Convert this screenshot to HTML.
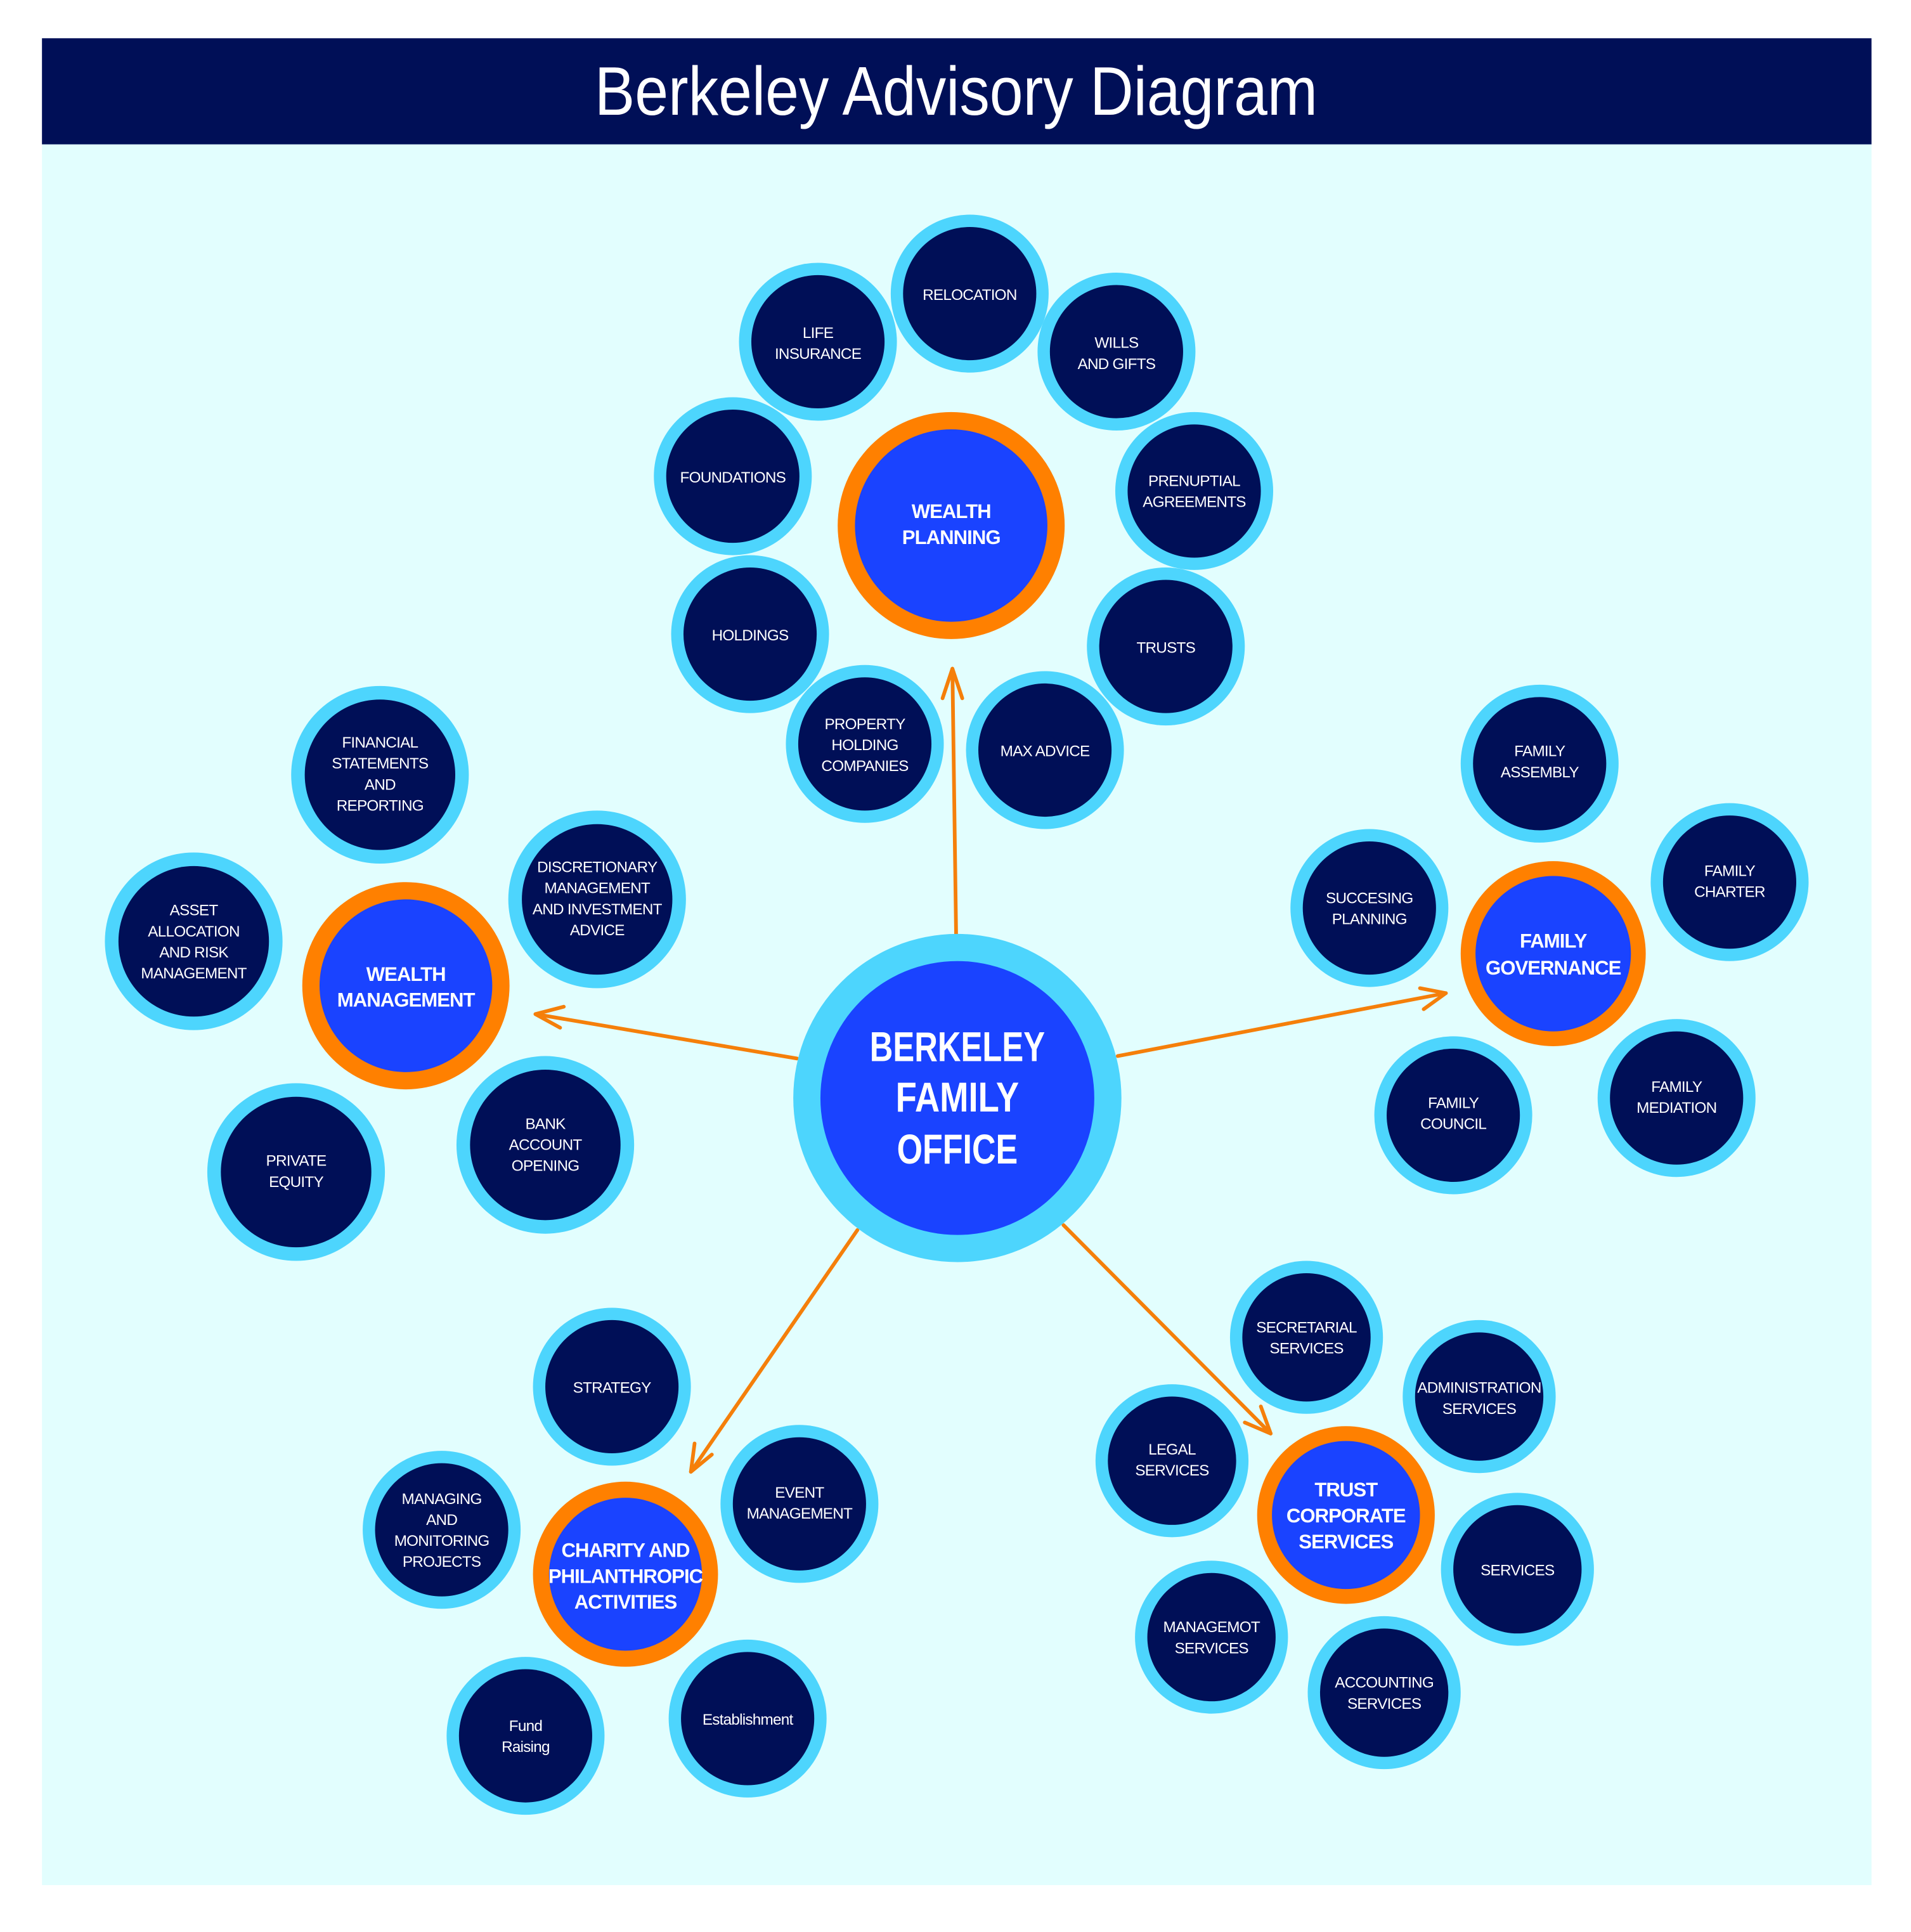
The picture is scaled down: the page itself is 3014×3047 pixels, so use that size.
<!DOCTYPE html>
<html><head><meta charset="utf-8"><style>
html,body{margin:0;padding:0;background:#fff;}
svg{display:block;}
text{font-family:"Liberation Sans",sans-serif;fill:#fff;text-anchor:middle;}
.s{font-size:12.5px;letter-spacing:-0.4px;}
.m{font-size:16px;font-weight:bold;letter-spacing:-0.5px;}
</style></head><body>
<svg width="3014" height="3047" viewBox="0 0 1549 1566" xmlns="http://www.w3.org/2000/svg">
<rect x="0" y="0" width="1549" height="1566" fill="#ffffff"/>
<rect x="34" y="116" width="1483" height="1412" fill="#e2fefe"/>
<rect x="34" y="31" width="1483" height="86" fill="#000f57"/>
<text x="775" y="93" font-size="56" textLength="586" lengthAdjust="spacingAndGlyphs">Berkeley Advisory Diagram</text>

<g stroke="#f57f0a" stroke-width="3" fill="none" stroke-linecap="round" stroke-linejoin="round">
<line x1="775" y1="758" x2="772" y2="542"/><polyline points="764,566 772,542 780,566"/>
<line x1="646" y1="858" x2="434" y2="822"/><polyline points="457,816 434,822 454,833"/>
<line x1="906" y1="856" x2="1172" y2="805"/><polyline points="1151,801 1172,805 1154,818"/>
<line x1="695" y1="997" x2="560" y2="1193"/><polyline points="563,1170 560,1193 577,1179"/>
<line x1="862" y1="993" x2="1030" y2="1162"/><polyline points="1022,1140 1030,1162 1009,1153"/>
</g>

<circle cx="776" cy="890" r="133" fill="#4dd5fd"/>
<circle cx="776" cy="890" r="111" fill="#1a43ff"/>
<text x="776" y="860" font-size="34" font-weight="bold" textLength="142" lengthAdjust="spacingAndGlyphs">BERKELEY</text>
<text x="776" y="901" font-size="34" font-weight="bold" textLength="100" lengthAdjust="spacingAndGlyphs">FAMILY</text>
<text x="776" y="943" font-size="34" font-weight="bold" textLength="98" lengthAdjust="spacingAndGlyphs">OFFICE</text>

<circle cx="771" cy="426" r="92" fill="#ff8000"/><circle cx="771" cy="426" r="78" fill="#1a43ff"/>
<text class="m" x="771" y="420">WEALTH</text><text class="m" x="771" y="441">PLANNING</text>

<circle cx="329" cy="799" r="84" fill="#ff8000"/><circle cx="329" cy="799" r="70" fill="#1a43ff"/>
<text class="m" x="329" y="795">WEALTH</text><text class="m" x="329" y="816">MANAGEMENT</text>

<circle cx="1259" cy="773" r="75" fill="#ff8000"/><circle cx="1259" cy="773" r="63" fill="#1a43ff"/>
<text class="m" x="1259" y="768">FAMILY</text><text class="m" x="1259" y="790">GOVERNANCE</text>

<circle cx="507" cy="1276" r="75" fill="#ff8000"/><circle cx="507" cy="1276" r="62" fill="#1a43ff"/>
<text class="m" x="507" y="1262">CHARITY AND</text><text class="m" x="507" y="1283">PHILANTHROPIC</text><text class="m" x="507" y="1304">ACTIVITIES</text>

<circle cx="1091" cy="1228" r="72" fill="#ff8000"/><circle cx="1091" cy="1228" r="60" fill="#1a43ff"/>
<text class="m" x="1091" y="1213">TRUST</text><text class="m" x="1091" y="1234">CORPORATE</text><text class="m" x="1091" y="1255">SERVICES</text>

<g fill="#4dd5fd">
<circle cx="786" cy="238" r="64"/><circle cx="663" cy="277" r="64"/><circle cx="905" cy="285" r="64"/>
<circle cx="594" cy="386" r="64"/><circle cx="968" cy="398" r="64"/><circle cx="608" cy="514" r="64"/>
<circle cx="945" cy="524" r="64"/><circle cx="701" cy="603" r="64"/><circle cx="847" cy="608" r="64"/>
<circle cx="308" cy="628" r="72"/><circle cx="484" cy="729" r="72"/><circle cx="157" cy="763" r="72"/>
<circle cx="240" cy="950" r="72"/><circle cx="442" cy="928" r="72"/>
<circle cx="1248" cy="619" r="64"/><circle cx="1402" cy="715" r="64"/><circle cx="1110" cy="736" r="64"/>
<circle cx="1178" cy="904" r="64"/><circle cx="1359" cy="890" r="64"/>
<circle cx="496" cy="1124" r="64"/><circle cx="648" cy="1219" r="64"/><circle cx="358" cy="1240" r="64"/>
<circle cx="426" cy="1407" r="64"/><circle cx="606" cy="1393" r="64"/>
<circle cx="1059" cy="1084" r="62"/><circle cx="1199" cy="1132" r="62"/><circle cx="950" cy="1184" r="62"/>
<circle cx="1230" cy="1272" r="62"/><circle cx="982" cy="1327" r="62"/><circle cx="1122" cy="1372" r="62"/>
</g>
<g fill="#000f57">
<circle cx="786" cy="238" r="54"/><circle cx="663" cy="277" r="54"/><circle cx="905" cy="285" r="54"/>
<circle cx="594" cy="386" r="54"/><circle cx="968" cy="398" r="54"/><circle cx="608" cy="514" r="54"/>
<circle cx="945" cy="524" r="54"/><circle cx="701" cy="603" r="54"/><circle cx="847" cy="608" r="54"/>
<circle cx="308" cy="628" r="61"/><circle cx="484" cy="729" r="61"/><circle cx="157" cy="763" r="61"/>
<circle cx="240" cy="950" r="61"/><circle cx="442" cy="928" r="61"/>
<circle cx="1248" cy="619" r="54"/><circle cx="1402" cy="715" r="54"/><circle cx="1110" cy="736" r="54"/>
<circle cx="1178" cy="904" r="54"/><circle cx="1359" cy="890" r="54"/>
<circle cx="496" cy="1124" r="54"/><circle cx="648" cy="1219" r="54"/><circle cx="358" cy="1240" r="54"/>
<circle cx="426" cy="1407" r="54"/><circle cx="606" cy="1393" r="54"/>
<circle cx="1059" cy="1084" r="52"/><circle cx="1199" cy="1132" r="52"/><circle cx="950" cy="1184" r="52"/>
<circle cx="1230" cy="1272" r="52"/><circle cx="982" cy="1327" r="52"/><circle cx="1122" cy="1372" r="52"/>
</g>

<g>
<text class="s" x="786" y="243">RELOCATION</text>
<text class="s" x="663" y="274">LIFE</text><text class="s" x="663" y="291">INSURANCE</text>
<text class="s" x="905" y="282">WILLS</text><text class="s" x="905" y="299">AND GIFTS</text>
<text class="s" x="594" y="391">FOUNDATIONS</text>
<text class="s" x="968" y="394">PRENUPTIAL</text><text class="s" x="968" y="411">AGREEMENTS</text>
<text class="s" x="608" y="519">HOLDINGS</text>
<text class="s" x="945" y="529">TRUSTS</text>
<text class="s" x="701" y="591">PROPERTY</text><text class="s" x="701" y="608">HOLDING</text><text class="s" x="701" y="625">COMPANIES</text>
<text class="s" x="847" y="613">MAX ADVICE</text>

<text class="s" x="308" y="606">FINANCIAL</text><text class="s" x="308" y="623">STATEMENTS</text><text class="s" x="308" y="640">AND</text><text class="s" x="308" y="657">REPORTING</text>
<text class="s" x="484" y="707">DISCRETIONARY</text><text class="s" x="484" y="724">MANAGEMENT</text><text class="s" x="484" y="741">AND INVESTMENT</text><text class="s" x="484" y="758">ADVICE</text>
<text class="s" x="157" y="742">ASSET</text><text class="s" x="157" y="759">ALLOCATION</text><text class="s" x="157" y="776">AND RISK</text><text class="s" x="157" y="793">MANAGEMENT</text>
<text class="s" x="240" y="945">PRIVATE</text><text class="s" x="240" y="962">EQUITY</text>
<text class="s" x="442" y="915">BANK</text><text class="s" x="442" y="932">ACCOUNT</text><text class="s" x="442" y="949">OPENING</text>

<text class="s" x="1248" y="613">FAMILY</text><text class="s" x="1248" y="630">ASSEMBLY</text>
<text class="s" x="1402" y="710">FAMILY</text><text class="s" x="1402" y="727">CHARTER</text>
<text class="s" x="1110" y="732">SUCCESING</text><text class="s" x="1110" y="749">PLANNING</text>
<text class="s" x="1178" y="898">FAMILY</text><text class="s" x="1178" y="915">COUNCIL</text>
<text class="s" x="1359" y="885">FAMILY</text><text class="s" x="1359" y="902">MEDIATION</text>

<text class="s" x="496" y="1129">STRATEGY</text>
<text class="s" x="648" y="1214">EVENT</text><text class="s" x="648" y="1231">MANAGEMENT</text>
<text class="s" x="358" y="1219">MANAGING</text><text class="s" x="358" y="1236">AND</text><text class="s" x="358" y="1253">MONITORING</text><text class="s" x="358" y="1270">PROJECTS</text>
<text class="s" x="426" y="1403">Fund</text><text class="s" x="426" y="1420">Raising</text>
<text class="s" x="606" y="1398">Establishment</text>

<text class="s" x="1059" y="1080">SECRETARIAL</text><text class="s" x="1059" y="1097">SERVICES</text>
<text class="s" x="1199" y="1129">ADMINISTRATION</text><text class="s" x="1199" y="1146">SERVICES</text>
<text class="s" x="950" y="1179">LEGAL</text><text class="s" x="950" y="1196">SERVICES</text>
<text class="s" x="1230" y="1277">SERVICES</text>
<text class="s" x="982" y="1323">MANAGEMOT</text><text class="s" x="982" y="1340">SERVICES</text>
<text class="s" x="1122" y="1368">ACCOUNTING</text><text class="s" x="1122" y="1385">SERVICES</text>
</g>
</svg>
</body></html>
